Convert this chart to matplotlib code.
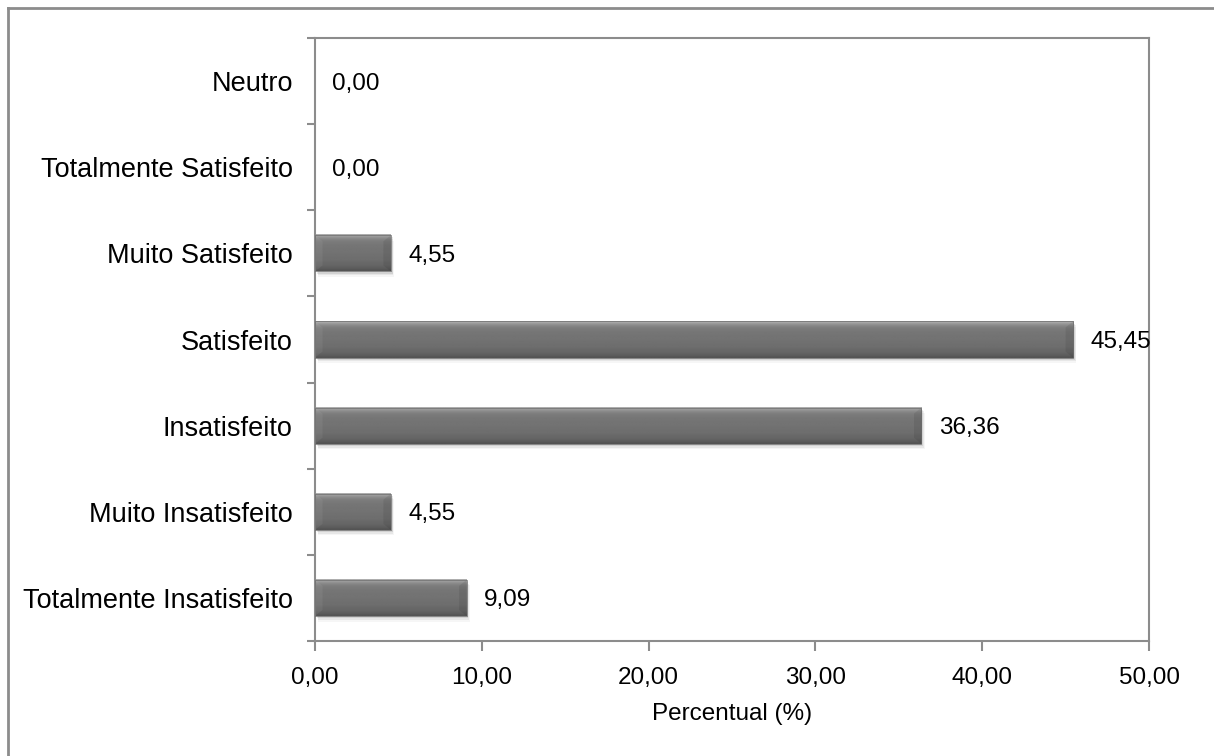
import numpy as np
import matplotlib
matplotlib.use("Agg")
import matplotlib.pyplot as plt
from matplotlib.patches import Rectangle, Polygon
from matplotlib.lines import Line2D
from matplotlib.ticker import FixedLocator

categories = ["Totalmente Insatisfeito", "Muito Insatisfeito", "Insatisfeito",
              "Satisfeito", "Muito Satisfeito", "Totalmente Satisfeito", "Neutro"]
values = [9.09, 4.55, 36.36, 45.45, 4.55, 0.00, 0.00]
x_ticks = [0, 10, 20, 30, 40, 50]
x_label = "Percentual (%)"

plt.rcParams["font.family"] = ["Liberation Sans", "DejaVu Sans"]
FS = 17.5
FS_Y = 19.5
AXC = "#8c8c8c"

fig = plt.figure(figsize=(12.14, 7.56), dpi=100)
ax = fig.add_axes([315 / 1214, 1 - 641 / 756, (1149 - 315) / 1214, (641 - 38) / 756])

ypos = np.arange(len(categories))
bar_h = 0.42
ax.set_xlim(0, 50)
ax.set_ylim(-0.5, len(categories) - 0.5)

# vertical shading profile of a bevelled bar (top -> bottom)
prof = np.array([0.68, 0.60, 0.54, 0.50, 0.48, 0.47, 0.46, 0.46, 0.45, 0.45,
                 0.45, 0.44, 0.44, 0.43, 0.43, 0.42, 0.41, 0.40, 0.38, 0.36, 0.33])
grad = prof[:, None] * np.ones((1, 2))
bev = 0.45  # bevel width in data units along x
bev_y = 0.07

for y, v in zip(ypos, values):
    if v > 0:
        y0, y1 = y - bar_h / 2, y + bar_h / 2
        # soft drop shadow
        for k, a in enumerate([0.09, 0.06, 0.035]):
            ax.add_patch(Rectangle((0.1 + 0.05 * k, y0 - 0.025 - 0.02 * k), v, bar_h,
                                   facecolor="black", alpha=a, edgecolor="none", zorder=1))
        ax.imshow(grad, cmap="gray", vmin=0, vmax=1, aspect="auto",
                  extent=(0, v, y0, y1), zorder=2, interpolation="bilinear")
        b = min(bev, v / 3)
        # left bevel (lit) and right bevel (shaded)
        ax.add_patch(Polygon([(0, y0), (0, y1), (b, y1 - bev_y), (b, y0 + bev_y)],
                             closed=True, facecolor="white", alpha=0.06,
                             edgecolor="none", zorder=2.5))
        ax.add_patch(Polygon([(v, y0), (v, y1), (v - b, y1 - bev_y), (v - b, y0 + bev_y)],
                             closed=True, facecolor="black", alpha=0.08,
                             edgecolor="none", zorder=2.5))
        ax.add_patch(Rectangle((0, y0), v, bar_h, facecolor="none",
                               edgecolor="#6a6a6a", linewidth=0.5, zorder=3))
    ax.annotate(f"{v:.2f}".replace(".", ","), (v, y), xytext=(12.5, 0),
                textcoords="offset points", ha="left", va="center_baseline",
                fontsize=FS, color="black", zorder=4)

ax.set_aspect("auto")
ax.set_xlim(0, 50)
ax.set_ylim(-0.5, len(categories) - 0.5)

ax.set_yticks(ypos)
ax.set_yticklabels(categories, fontsize=FS_Y)
ax.yaxis.set_minor_locator(FixedLocator(np.arange(-0.5, len(categories), 1.0)))
ax.tick_params(axis="y", which="major", length=0, pad=16)
ax.tick_params(axis="y", which="minor", length=6, width=1.5, color=AXC)

ax.set_xticks(x_ticks)
ax.set_xticklabels([f"{t:.2f}".replace(".", ",") for t in x_ticks], fontsize=FS)
ax.tick_params(axis="x", length=7, width=1.5, color=AXC, pad=12)
ax.set_xlabel(x_label, fontsize=FS, labelpad=10)

for s in ax.spines.values():
    s.set_color(AXC)
    s.set_linewidth(1.5)

# outer chart frame
fig.add_artist(Line2D([8 / 1214, 8 / 1214], [0, 1 - 8 / 756], transform=fig.transFigure,
                      color=AXC, linewidth=2))
fig.add_artist(Line2D([8 / 1214, 1], [1 - 8 / 756, 1 - 8 / 756], transform=fig.transFigure,
                      color=AXC, linewidth=2))

fig.savefig("out.png", dpi=100)
